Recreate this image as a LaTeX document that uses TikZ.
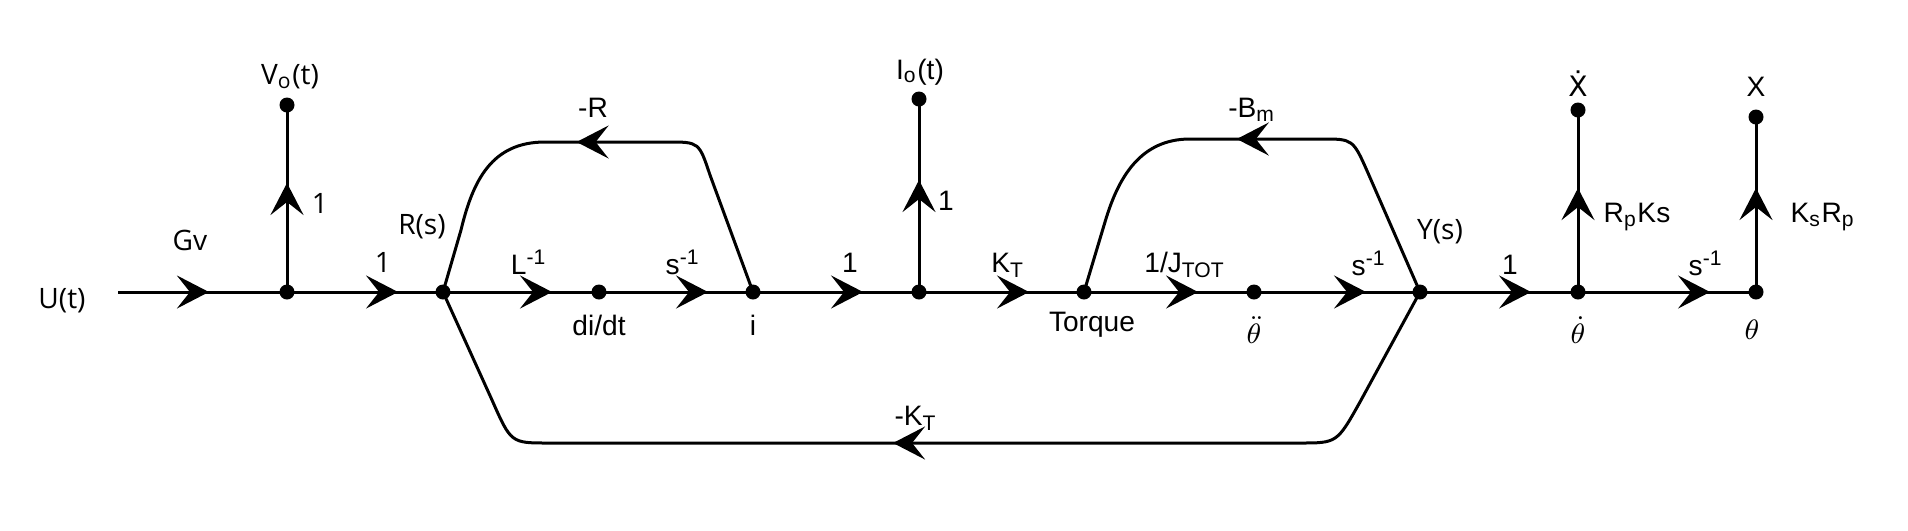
\documentclass[tikz,border=0pt]{standalone}
\usepackage{fontspec}
\setmainfont{Liberation Sans}
\newfontfamily\segoe{Open Sans}
\newfontfamily\dejavu{DejaVu Sans}
\usetikzlibrary{arrows.meta,decorations.markings}
\tikzset{
  dot/.style={circle, fill=black, inner sep=0pt, minimum size=1.5mm},
  lbl/.style={inner sep=0pt, font=\fontsize{8pt}{9pt}\selectfont},
  slbl/.style={inner sep=0pt, font=\fontsize{8pt}{9pt}\selectfont\segoe},
  br/.style={draw=black, line width=0.3mm},
  flow/.style={br, postaction={decorate}, decoration={markings,
    mark=at position #1 with {\arrow{Stealth[length=3.2mm,width=3.3mm,inset=1.3mm]}}}},
  every picture/.append style={line join=round}
}
\begin{document}
\begin{tikzpicture}[x=0.1mm, y=-0.1mm]
  \useasboundingbox (0,0) rectangle (1908,530);
  % nodes on the forward path
  \coordinate (u0) at (118,292);
  \node[dot] (n1) at (287,292) {};
  \node[dot] (R) at (443,292) {};
  \node[dot] (didt) at (599,292) {};
  \node[dot] (i) at (753,292) {};
  \node[dot] (io) at (919,292) {};
  \node[dot] (tq) at (1084,292) {};
  \node[dot] (thdd) at (1254,292) {};
  \node[dot] (Y) at (1420,292) {};
  \node[dot] (thd) at (1578,292) {};
  \node[dot] (th) at (1756,292) {};
  % output nodes
  \node[dot] (vo) at (287,105) {};
  \node[dot] (iout) at (919,99) {};
  \node[dot] (xd) at (1578,110) {};
  \node[dot] (x) at (1756,117) {};
  % forward branches
  \draw[flow=0.538] (u0) -- (n1.center);
  \draw[flow=0.712] (n1.center) -- (R.center);
  \draw[flow=0.699] (R.center) -- (didt.center);
  \draw[flow=0.708] (didt.center) -- (i.center);
  \draw[flow=0.663] (i.center) -- (io.center);
  \draw[flow=0.667] (io.center) -- (tq.center);
  \draw[flow=0.671] (tq.center) -- (thdd.center);
  \draw[flow=0.675] (thdd.center) -- (Y.center);
  \draw[flow=0.703] (Y.center) -- (thd.center);
  \draw[flow=0.742] (thd.center) -- (th.center);
  % output branches
  \draw[flow=0.583] (n1.center) -- (vo.center);
  \draw[flow=0.580] (io.center) -- (iout.center);
  \draw[flow=0.571] (thd.center) -- (xd.center);
  \draw[flow=0.594] (th.center) -- (x.center);
  % feedback loops
  \draw[flow=0.547] (i.center) -- (710,175) .. controls (699,142) .. (668,142)
    -- (545,142) .. controls (492,142) and (473,180) .. (461,230) -- (R.center);
  \draw[flow=0.529] (Y.center) -- (1368,173) .. controls (1353,139) .. (1322,139)
    -- (1190,139) .. controls (1140,139) and (1118,178) .. (1105,222) -- (tq.center);
  \draw[flow=0.530] (Y.center) -- (1360,402) .. controls (1337,443) .. (1300,443)
    -- (548,443) .. controls (511,443) .. (492,400) -- (R.center);
  % labels
  \node[slbl] (ut) at (62,301) {U(t)};
  \node[slbl] (gv) at (190,240) {Gv};
  \node[slbl] (vot) at (290,77) {V\textsubscript{o}(t)};
  \node[slbl] (g1) at (320,203) {1};
  \node[slbl] (g2) at (383,262) {1};
  \node[slbl] (rs) at (422,227) {R(s)};
  \node[lbl] (gr) at (593,108) {-R};
  \node[lbl] (gl) at (529,262) {L\textsuperscript{-1}};
  \node[lbl] (ldidt) at (599,325) {di/dt};
  \node[lbl] (gs1) at (683,262) {s\textsuperscript{-1}};
  \node[lbl] (li) at (753,325) {i};
  \node[lbl] (g3) at (850,263) {1};
  \node[lbl] (iot) at (920,72) {I\textsubscript{o}(t)};
  \node[lbl] (g4) at (946,201) {1};
  \node[lbl] (gkt) at (1008,265) {K\textsubscript{T}};
  \node[lbl] (ltq) at (1092,325) {Torque};
  \node[lbl] (gj) at (1185,265) {1/J\textsubscript{TOT}};
  \node[lbl] (lthdd) at (1254,330) {$\ddot{\theta}$};
  \node[lbl] (gs2) at (1369,263) {s\textsuperscript{-1}};
  \node[lbl] (gbm) at (1252,110) {-B\textsubscript{m}};
  \node[slbl] (ys) at (1440,232) {Y(s)};
  \node[lbl] (g5) at (1510,265) {1};
  \node[lbl] (grpks) at (1637,217) {R\textsubscript{p}Ks};
  \node[lbl] (gs3) at (1706,263) {s\textsuperscript{-1}};
  \node[lbl] (gksrp) at (1823,217) {K\textsubscript{s}R\textsubscript{p}};
  \node[lbl] (lxd) at (1578,84) {\dejavu Ẋ};
  \node[lbl] (lx) at (1756,87) {X};
  \node[lbl] (lthd) at (1578,330) {$\dot{\theta}$};
  \node[lbl] (lth) at (1752,330) {$\theta$};
  \node[lbl] (gkt2) at (916,418) {-K\textsubscript{T}};
\end{tikzpicture}
\end{document}
